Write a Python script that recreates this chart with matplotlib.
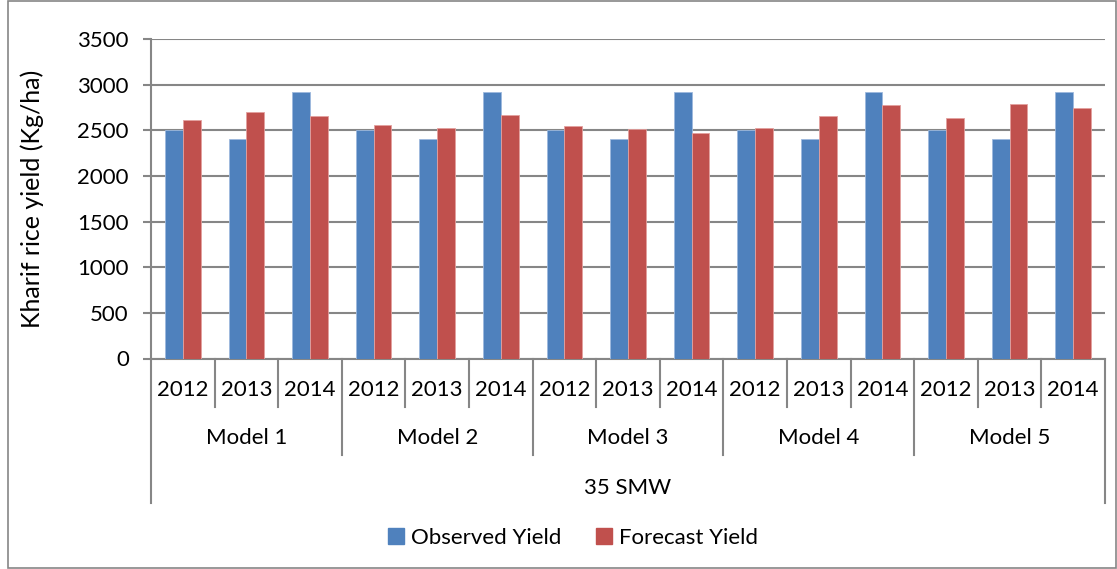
import matplotlib
matplotlib.use("Agg")
import matplotlib.pyplot as plt
from matplotlib.patches import Rectangle, Patch
from matplotlib.transforms import blended_transform_factory
import numpy as np

models = ["Model 1", "Model 2", "Model 3", "Model 4", "Model 5"]
years = ["2012", "2013", "2014"]
group_label = "35 SMW"
observed = [2500, 2400, 2920, 2500, 2400, 2920, 2500, 2400, 2920,
            2500, 2400, 2920, 2500, 2400, 2920]
forecast = [2610, 2695, 2660, 2555, 2525, 2667, 2545, 2510, 2475,
            2520, 2655, 2778, 2632, 2790, 2742]
yticks = [0, 500, 1000, 1500, 2000, 2500, 3000, 3500]

plt.rcParams['font.family'] = ['Lato', 'DejaVu Sans']
W, H = 1117, 569
fig = plt.figure(figsize=(W / 100, H / 100), dpi=100)
ax = fig.add_axes([151 / W, 1 - 358.5 / H, (1105 - 151) / W, (358.5 - 39) / H])

n = len(observed)
x = np.arange(n)
bw = 0.28
blue = "#4F81BD"
red = "#C0504D"
ax.bar(x - bw / 2, observed, bw, color=blue, edgecolor="#9DB9DE", linewidth=0.6, zorder=3)
ax.bar(x + bw / 2, forecast, bw, color=red, edgecolor="#E3A09E", linewidth=0.6, zorder=3)

fs = 16
ax.set_xlim(-0.5, n - 0.5)
ax.set_ylim(0, 3500)
ax.set_yticks(yticks)
ax.set_yticklabels([str(v) for v in yticks], fontsize=fs)
ax.yaxis.grid(True, color="#868686", linewidth=1.5, zorder=0)
ax.set_axisbelow(True)
for s in ["top", "right"]:
    ax.spines[s].set_visible(False)
ax.spines["left"].set_color("#868686")
ax.spines["left"].set_linewidth(1.5)
ax.spines["bottom"].set_color("#868686")
ax.spines["bottom"].set_linewidth(1.5)
ax.tick_params(axis="y", length=6, width=1.5, color="#868686", pad=10)
ax.set_xticks([])
ax.set_ylabel("Kharif rice yield (Kg/ha)", fontsize=18, labelpad=24)

# hierarchical category axis
trans = blended_transform_factory(ax.transData, ax.transAxes)
ah = 358.5 - 39
def ay(py):
    return (358.5 - py) / ah

gc = "#868686"
for k in range(n + 1):
    xb = k - 0.5
    if k == 0 or k == n:
        yb = ay(503)
    elif k % 3 == 0:
        yb = ay(455)
    else:
        yb = ay(407)
    ax.plot([xb, xb], [0, yb], transform=trans, color=gc, lw=1.5, clip_on=False)

for i in range(n):
    ax.text(x[i], ay(390), years[i % 3], transform=trans, ha="center", va="center", fontsize=fs)
for m, name in enumerate(models):
    ax.text(3 * m + 1, ay(438), name, transform=trans, ha="center", va="center", fontsize=fs)
ax.text((n - 1) / 2, ay(488), group_label, transform=trans, ha="center", va="center", fontsize=fs)

# legend
handles = [Patch(color=blue, label="Observed Yield"), Patch(color=red, label="Forecast Yield")]
fig.legend(handles=handles, loc="center", bbox_to_anchor=(573 / W, 1 - 538 / H), ncol=2,
           frameon=False, fontsize=fs, handlelength=0.7, handleheight=0.7,
           handletextpad=0.3, columnspacing=1.6)

# outer border
fig.patches.append(Rectangle((8 / W, 0.002), 1 - 8 / W - 0.001, 0.996, transform=fig.transFigure,
                             fill=False, edgecolor="#868686", linewidth=1.2))

fig.savefig("out.png", dpi=100)
